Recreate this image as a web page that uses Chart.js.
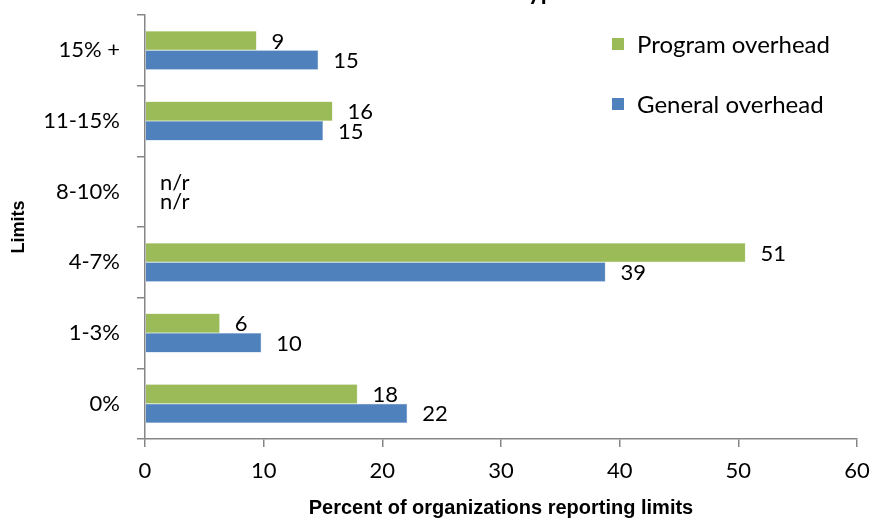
<!DOCTYPE html>
<html>
<head>
<meta charset="utf-8">
<script src="https://cdn.jsdelivr.net/npm/chart.js@4"></script>
<style>
  html, body { margin: 0; padding: 0; background: #fff; }
  #wrap { width: 876px; height: 520px; }
</style>
</head>
<body>
<div id="wrap"><canvas id="chart" width="876" height="520"></canvas></div>
<script>
const limitLabels = ['15% +', '11-15%', '8-10%', '4-7%', '1-3%', '0%'];
const programOverhead = [9.4, 15.8, null, 50.6, 6.3, 17.9];
const generalOverhead = [14.6, 15.0, null, 38.8, 9.8, 22.1];
const xTicks = [0, 10, 20, 30, 40, 50, 60];

const FONT = "Lato, 'Open Sans', sans-serif";
const BOLD_FONT = "Arial, 'Liberation Sans', sans-serif";
const AXIS_GREY = '#868686';

// value labels at the end of each bar, "n/r" where nothing was reported
const barLabels = {
    id: 'barLabels',
    afterDatasetsDraw(chart) {
        const ctx = chart.ctx;
        ctx.save();
        ctx.font = '22px ' + FONT;
        ctx.fillStyle = '#000';
        ctx.textAlign = 'left';
        ctx.textBaseline = 'middle';
        const x0 = chart.scales.x.getPixelForValue(0);
        chart.data.datasets.forEach((ds, i) => {
            chart.getDatasetMeta(i).data.forEach((bar, j) => {
                const v = ds.data[j];
                const txt = v === null ? 'n/r' : String(Math.round(v));
                const x = (v === null ? x0 : bar.x) + 15;
                ctx.fillText(txt, x, bar.y + 1);
            });
        });
        ctx.restore();
    }
};

// legend drawn inside the plot, top right, stacked
const sideLegend = {
    id: 'sideLegend',
    afterDraw(chart) {
        const ctx = chart.ctx;
        ctx.save();
        ctx.font = '24px ' + FONT;
        ctx.textBaseline = 'middle';
        chart.data.datasets.forEach((ds, i) => {
            const y = 44 + i * 60;
            ctx.fillStyle = ds.backgroundColor;
            ctx.fillRect(612, y - 6, 12, 12);
            ctx.fillStyle = '#000';
            ctx.fillText(ds.label, 637, y + 1);
        });
        ctx.restore();
    }
};

// chart title sits above the visible area; only its descenders show
const cutTitle = {
    id: 'cutTitle',
    afterDraw(chart) {
        const ctx = chart.ctx;
        ctx.save();
        ctx.font = 'bold 24px ' + FONT;
        ctx.fillStyle = '#000';
        ctx.textBaseline = 'alphabetic';
        const pre = 'Overhead Limit T';
        const left = 530 - ctx.measureText(pre).width;
        ctx.fillText('Overhead Limit Type', left, 0);
        ctx.restore();
    }
};

new Chart(document.getElementById('chart'), {
    type: 'bar',
    data: {
        labels: limitLabels,
        datasets: [
            {
                label: 'Program overhead',
                data: programOverhead,
                backgroundColor: '#9BBB59',
                borderColor: '#C3D69B',
                borderWidth: 0.5,
                categoryPercentage: 0.55,
                barPercentage: 1.0
            },
            {
                label: 'General overhead',
                data: generalOverhead,
                backgroundColor: '#4F81BD',
                borderColor: '#95B3D7',
                borderWidth: 0.5,
                categoryPercentage: 0.55,
                barPercentage: 1.0
            }
        ]
    },
    options: {
        indexAxis: 'y',
        responsive: false,
        animation: false,
        layout: { padding: { top: 15, right: 19, left: 0, bottom: 0 } },
        plugins: {
            legend: { display: false },
            tooltip: { enabled: false }
        },
        scales: {
            x: {
                min: 0,
                max: 60,
                afterBuildTicks: axis => { axis.ticks = xTicks.map(v => ({ value: v })); },
                afterFit: axis => {
                    axis.height = 81;
                    axis.paddingLeft = 0;
                    axis.paddingRight = 0;
                },
                border: { display: true, color: AXIS_GREY, width: 1.5 },
                grid: { drawOnChartArea: false, drawTicks: true, tickLength: 8, color: AXIS_GREY, lineWidth: 1.5 },
                ticks: { color: '#000', font: { family: FONT, size: 22 }, padding: 11 },
                title: {
                    display: true,
                    text: 'Percent of organizations reporting limits',
                    color: '#000',
                    font: { family: BOLD_FONT, size: 20, weight: 'bold' },
                    padding: { top: 0, bottom: 0 }
                }
            },
            y: {
                afterFit: axis => {
                    axis.width = 145;
                    axis.paddingTop = 0;
                    axis.paddingBottom = 0;
                },
                border: { display: true, color: AXIS_GREY, width: 1.5 },
                grid: { drawOnChartArea: false, drawTicks: true, tickLength: 8, color: AXIS_GREY, lineWidth: 1.5, offset: true },
                ticks: { color: '#000', font: { family: FONT, size: 22 }, padding: 17 },
                title: {
                    display: true,
                    text: 'Limits',
                    color: '#000',
                    font: { family: BOLD_FONT, size: 18, weight: 'bold' },
                    padding: { top: 8, bottom: 0 }
                }
            }
        }
    },
    plugins: [barLabels, sideLegend, cutTitle]
});
</script>
</body>
</html>
